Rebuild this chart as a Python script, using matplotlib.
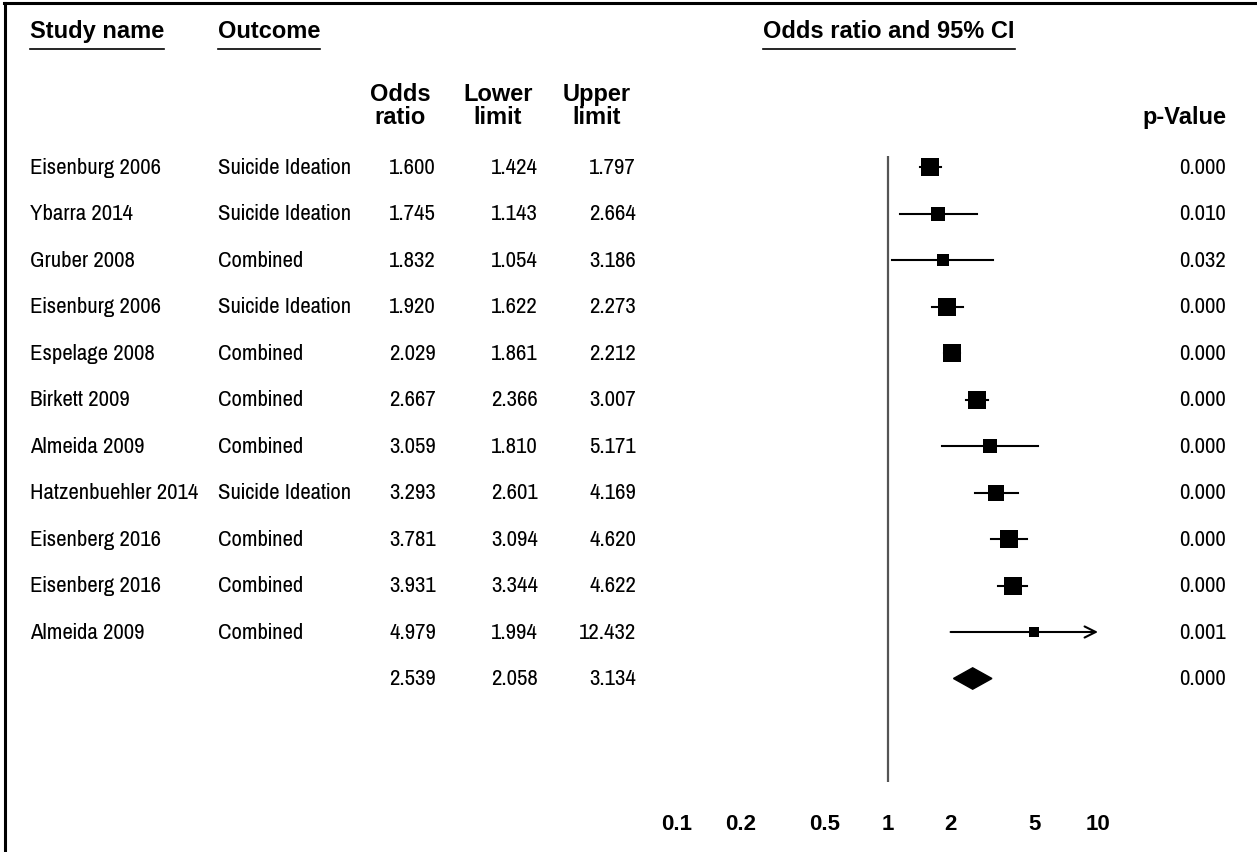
import matplotlib
matplotlib.use("Agg")
import matplotlib.pyplot as plt
import matplotlib.transforms as mtransforms
from matplotlib.patches import Polygon
from matplotlib.ticker import NullLocator
from matplotlib import font_manager

# === data ===
studies = ["Eisenburg 2006", "Ybarra 2014", "Gruber 2008", "Eisenburg 2006",
           "Espelage 2008", "Birkett 2009", "Almeida 2009", "Hatzenbuehler 2014",
           "Eisenberg 2016", "Eisenberg 2016", "Almeida 2009"]
outcomes = ["Suicide Ideation", "Suicide Ideation", "Combined", "Suicide Ideation",
            "Combined", "Combined", "Combined", "Suicide Ideation",
            "Combined", "Combined", "Combined"]
odds = [1.600, 1.745, 1.832, 1.920, 2.029, 2.667, 3.059, 3.293, 3.781, 3.931, 4.979]
lower = [1.424, 1.143, 1.054, 1.622, 1.861, 2.366, 1.810, 2.601, 3.094, 3.344, 1.994]
upper = [1.797, 2.664, 3.186, 2.273, 2.212, 3.007, 5.171, 4.169, 4.620, 4.622, 12.432]
p_values = ["0.000", "0.010", "0.032", "0.000", "0.000", "0.000",
            "0.000", "0.000", "0.000", "0.000", "0.001"]
# relative study weight -> box side in pixels
box_px = [18, 15, 13, 18, 18, 18, 14, 17, 18, 18, 10]

summary_or, summary_lo, summary_hi, summary_p = 2.539, 2.058, 3.134, "0.000"

ticks = [0.1, 0.2, 0.5, 1, 2, 5, 10]
tick_labels = ["0.1", "0.2", "0.5", "1", "2", "5", "10"]

# === layout (pixels) ===
W, H = 1257, 853
ROW0, ROWH = 168, 46.5
X_LO, X_HI = 677, 1098       # pixel span of 0.1 .. 10
Y_TOP, Y_BOT = 157, 783      # pixel span of forest area

# narrow font for the table body, like the original
have = {f.name for f in font_manager.fontManager.ttflist}
narrow = next((f for f in ["Liberation Sans Narrow", "Arial Narrow", "Pragati Narrow",
                           "Archivo Narrow", "Roboto Condensed", "PT Sans Narrow",
                           "IBM Plex Sans Condensed", "Fira Sans Condensed"]
               if f in have), "Liberation Sans")

HEAD = dict(family=["Liberation Sans", "DejaVu Sans"], fontweight="bold", fontsize=17)

fig = plt.figure(figsize=(W / 100, H / 100), dpi=100)
renderer = fig.canvas.get_renderer()

# fit body size so that "Suicide Ideation" is ~133 px wide
probe = fig.text(0, 0, "Suicide Ideation", family=[narrow, "DejaVu Sans"], fontsize=16)
body_size = min(18, 16 * 133 / probe.get_window_extent(renderer).width)
probe.remove()
BODY = dict(family=[narrow, "Liberation Sans", "DejaVu Sans"], fontsize=body_size)

bg = fig.add_axes([0, 0, 1, 1])
bg.set_xlim(0, W)
bg.set_ylim(H, 0)
bg.axis("off")

ax = fig.add_axes([X_LO / W, 1 - Y_BOT / H, (X_HI - X_LO) / W, (Y_BOT - Y_TOP) / H])
ax.set_xscale("log")
ax.set_xlim(0.1, 10)
ax.set_ylim((Y_BOT - ROW0) / ROWH, (Y_TOP - ROW0) / ROWH)
for s in ax.spines.values():
    s.set_visible(False)
ax.set_yticks([])
ax.set_xticks(ticks, tick_labels)
ax.xaxis.set_minor_locator(NullLocator())
ax.tick_params(axis="x", length=0, pad=22)
for lab in ax.get_xticklabels():
    lab.set_fontweight("bold")
    lab.set_fontsize(16)
    lab.set_family(["Liberation Sans", "DejaVu Sans"])
ax.patch.set_alpha(0)

# x in pixel layout, y in row units
tr = mtransforms.blended_transform_factory(bg.transData, ax.transData)

# === 森林图 ===
ax.axvline(1, color="#555555", lw=1.6, zorder=1)
n = len(studies)
for i in range(n):
    if upper[i] > 10:
        ax.annotate("", xy=(10, i), xytext=(lower[i], i),
                    arrowprops=dict(arrowstyle="->", lw=1.5, color="black",
                                    shrinkA=0, shrinkB=0, mutation_scale=20))
    else:
        ax.plot([lower[i], upper[i]], [i, i], color="black", lw=1.5, zorder=2)
    ax.plot(odds[i], i, marker="s", color="black", markersize=box_px[i] / 1.389,
            markeredgewidth=0, zorder=3)

ys = n
dh = 0.23
ax.add_patch(Polygon([(summary_lo, ys), (summary_or, ys - dh), (summary_hi, ys),
                      (summary_or, ys + dh)], closed=True, color="black", zorder=3))

# === table text ===
names = studies + [""]
outs = outcomes + [""]
ors = odds + [summary_or]
los = lower + [summary_lo]
his = upper + [summary_hi]
ps = p_values + [summary_p]
for y, (nm, oc, o, l, h, p) in enumerate(zip(names, outs, ors, los, his, ps)):
    bg.text(30, y, nm, transform=tr, ha="left", va="center", **BODY)
    bg.text(218, y, oc, transform=tr, ha="left", va="center", **BODY)
    bg.text(436, y, f"{o:.3f}", transform=tr, ha="right", va="center", **BODY)
    bg.text(538, y, f"{l:.3f}", transform=tr, ha="right", va="center", **BODY)
    bg.text(636, y, f"{h:.3f}", transform=tr, ha="right", va="center", **BODY)
    bg.text(1226, y, p, transform=tr, ha="right", va="center", **BODY)

# === headers ===
h1 = bg.text(30, 31, "Study name", ha="left", va="center", **HEAD)
h2 = bg.text(218, 31, "Outcome", ha="left", va="center", **HEAD)
h3 = bg.text(889, 31, "Odds ratio and 95% CI", ha="center", va="center", **HEAD)
for x, lab in [(400, "Odds\nratio"), (498, "Lower\nlimit"), (597, "Upper\nlimit")]:
    bg.text(x, 106, lab, ha="center", va="center", multialignment="center",
            linespacing=1.0, **HEAD)
bg.text(1226, 117, "p-Value", ha="right", va="center", **HEAD)

fig.canvas.draw()
inv = bg.transData.inverted()
for t in (h1, h2, h3):
    bb = t.get_window_extent()
    x0, _ = inv.transform((bb.x0, 0))
    x1, _ = inv.transform((bb.x1, 0))
    bg.plot([x0, x1], [50, 50], color="black", lw=1.2)

# frame on left and top
bg.plot([5, 5], [4, H], color="black", lw=2.2, clip_on=False)
bg.plot([4, W], [4, 4], color="black", lw=2.2, clip_on=False)

fig.savefig("out.png", dpi=100)
